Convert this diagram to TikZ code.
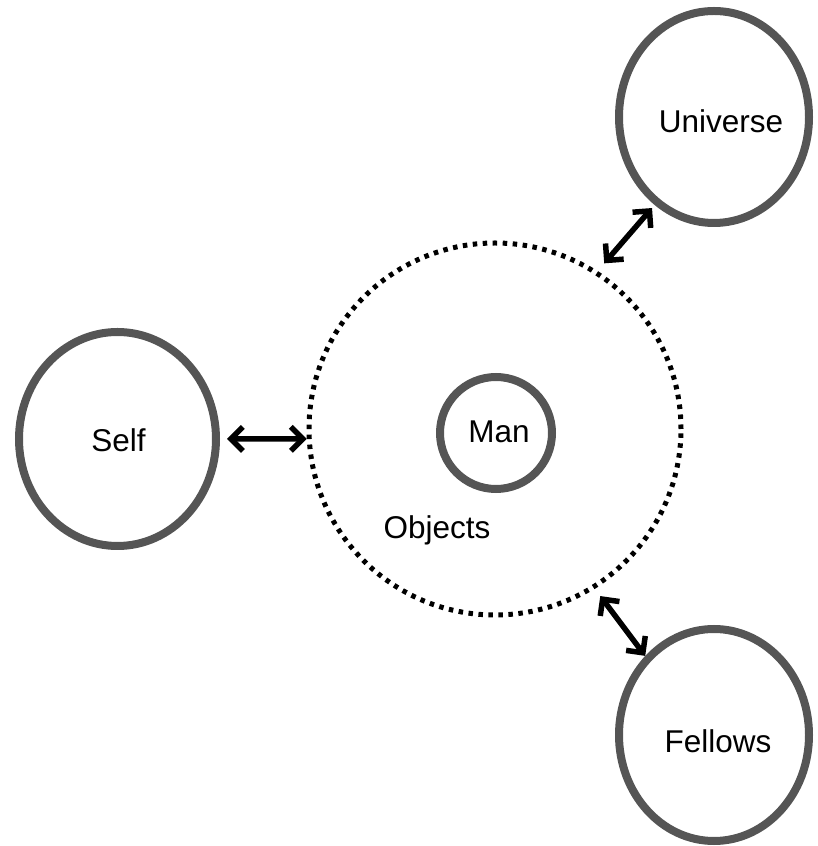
\documentclass[tikz,border=0pt]{standalone}
\usepackage{fontspec}
\setmainfont{Liberation Sans}
\usetikzlibrary{shapes.geometric,arrows.meta}
\definecolor{ringgray}{RGB}{85,85,85}
\tikzset{
  ring/.style={ellipse, draw=ringgray, line width=8pt, inner sep=0pt, font=\fontsize{31.5}{36}\selectfont},
  dotring/.style={circle, draw=black, line width=5pt, dash pattern=on 4.5pt off 5.5pt, inner sep=0pt},
  link/.style={line width=5.5pt, {Straight Barb[length=12pt,width=24pt]}-{Straight Barb[length=12pt,width=24pt]}},
  lbl/.style={font=\fontsize{31.5}{36}\selectfont, inner sep=0pt}
}
\begin{document}
\begin{tikzpicture}[x=1pt,y=1pt]
\useasboundingbox (0,0) rectangle (817,846);
\node[dotring, minimum size=372pt] (obj) at (495,417) {};
\node[ring, minimum width=112pt, minimum height=112pt, label={[lbl, xshift=3pt, yshift=1pt]center:Man}] (man) at (496,413) {};
\node[lbl] (objl) at (437,316) {Objects};
\node[ring, minimum width=197pt, minimum height=214pt, label={[lbl, xshift=1pt, yshift=-1pt]center:Self}] (self) at (117.5,407) {};
\node[ring, minimum width=190pt, minimum height=212pt, label={[lbl, xshift=7pt, yshift=-4pt]center:Universe}] (uni) at (714,729) {};
\node[ring, minimum width=190pt, minimum height=212pt, label={[lbl, xshift=4pt, yshift=-6pt]center:Fellows}] (fel) at (714,111) {};
\draw[link, shorten <=7pt] (self.east) -- (obj.183);
\draw[link, shorten <=10pt, shorten >=4pt] (obj.57) -- (uni.236);
\draw[link, shorten <=9pt] (obj.-58.5) -- (fel.131);
\end{tikzpicture}
\end{document}
